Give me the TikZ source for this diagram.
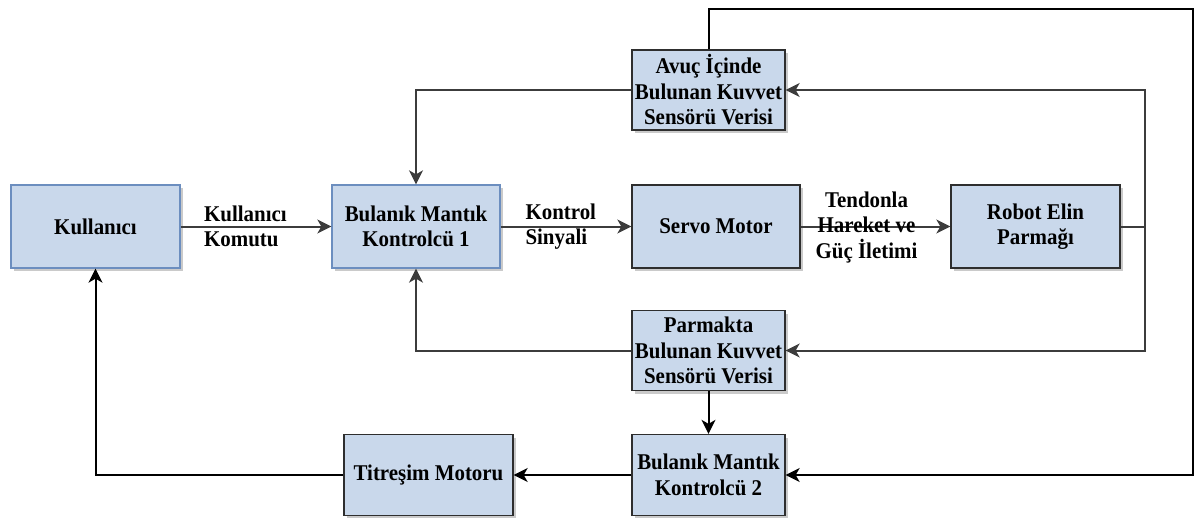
\documentclass[tikz,border=0pt]{standalone}
\usepackage{fontspec}
\setmainfont{Liberation Serif}
\newfontfamily\dfont{Liberation Serif}[FakeStretch=0.93]
\usetikzlibrary{arrows.meta,shadows}
\definecolor{boxfill}{HTML}{C9D8EB}
\definecolor{blueedge}{HTML}{6C8EBF}
\definecolor{darkedge}{HTML}{2E2E2E}
\definecolor{lgray}{HTML}{3C3C3C}
\tikzset{
  blk/.style={draw=darkedge, fill=boxfill, line width=1.3pt, inner sep=0pt, align=center,
    font=\dfont\fontsize{22.5}{25.5}\selectfont\bfseries,
    drop shadow={shadow xshift=3pt, shadow yshift=-3pt, fill=black!35, opacity=0.6}},
  blkb/.style={blk, draw=blueedge},
  tip/.style={-{Stealth[length=14pt,width=14pt,inset=4pt]}},
  ga/.style={tip, draw=lgray, line width=2pt},
  ba/.style={tip, draw=black, line width=2pt},
  lbl/.style={font=\dfont\fontsize{22.5}{25.5}\selectfont\bfseries, inner sep=0pt},
}
\begin{document}
\begin{tikzpicture}[x=1pt,y=-1pt]
\useasboundingbox (0,0) rectangle (1194,517);
% nodes
\node[blkb, minimum width=169pt, minimum height=83pt] (ku) at (95.5,226.5) {Kullanıcı};
\node[blkb, minimum width=168pt, minimum height=83pt] (b1) at (416,226.5) {Bulanık Mantık\\Kontrolcü 1};
\node[blk, minimum width=168pt, minimum height=83pt] (sm) at (716,226.5) {Servo Motor};
\node[blk, minimum width=169pt, minimum height=83pt] (rb) at (1035.5,226.5) {Robot Elin\\Parmağı};
\node[blk, minimum width=153pt, minimum height=80pt] (av) at (708.5,90) {Avuç İçinde\\Bulunan Kuvvet\\Sensörü Verisi};
\node[blk, minimum width=153pt, minimum height=80pt] (pa) at (708.5,350.5) {Parmakta\\Bulunan Kuvvet\\Sensörü Verisi};
\node[blk, minimum width=153pt, minimum height=81pt] (b2) at (708.5,475) {Bulanık Mantık\\Kontrolcü 2};
\node[blk, minimum width=169pt, minimum height=81pt] (ti) at (428.5,475) {Titreşim Motoru};
\coordinate (br) at (1145,226.5);
\coordinate (tr) at (1192.5,9);
% forward path
\draw[ga] (ku.east) -- node[lbl, pos=0.43, align=left] {Kullanıcı\\Komutu} (b1.west);
\draw[ga] (b1.east) -- node[lbl, pos=0.46, align=left] {Kontrol\\Sinyali} (sm.west);
\draw[ga] (sm.east) -- node[lbl, pos=0.44, align=center, yshift=-1pt] {Tendonla\\Hareket ve\\Güç İletimi} (rb.west);
% feedback from finger
\draw[ga] (rb.east) -- (br) |- (av.east);
\draw[ga] (br) |- (pa.east);
\draw[ga] (av.west) -| (b1.north);
\draw[ga] (pa.west) -| (b1.south);
% outer loop
\draw[ba] (av.north) |- (tr) |- (b2.east);
\draw[ba] (pa.south) -- (b2.north);
\draw[ba] (b2.west) -- (ti.east);
\draw[ba] (ti.west) -| (ku.south);
\end{tikzpicture}
\end{document}
